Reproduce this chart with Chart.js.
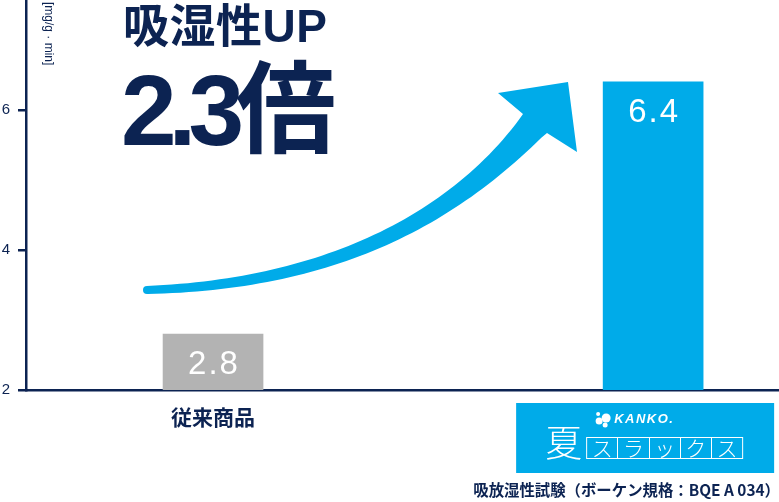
<!DOCTYPE html>
<html>
<head>
<meta charset="utf-8">
<script src="https://cdn.jsdelivr.net/npm/chart.js@4.4.1/dist/chart.umd.min.js"></script>
<style>
  html, body { margin: 0; padding: 0; background: #fff; }
  #wrap { width: 779px; height: 502px; position: relative; }
</style>
</head>
<body>
<div id="wrap"><canvas id="moistureChart"></canvas></div>
<script>
const categories = ['従来商品', '夏スラックス'];
const values = [2.8, 6.4];
const yTicks = [2, 4, 6];
const headline = '吸湿性UP';
const ratioText = '2.3倍';
const unitText = '[mg/g · min]';
const footnote = '吸放湿性試験（ボーケン規格：BQE A 034）';

const NAVY = '#0c2352';
const BLUE = '#00abe9';
const GRAY = '#b3b3b3';
const LATIN = '"Liberation Sans", Arial, "Noto Sans CJK JP", sans-serif';
const CJK = '"Noto Sans CJK JP", "Liberation Sans", sans-serif';

// no extra room around the axes, the plot fills the canvas
function noPadding(scale) {
    scale.paddingTop = 0;
    scale.paddingBottom = 0;
    scale.paddingLeft = 0;
    scale.paddingRight = 0;
}

// arrow, headline, value labels and the product logo
const decor = {
    id: 'decor',
    afterDatasetsDraw(chart) {
        const ctx = chart.ctx;
        const meta = chart.getDatasetMeta(0);

        // curved arrow
        const p0 = [147, 290], p1 = [400, 282], p2 = [535, 123];
        const n1 = [523, 114], n2 = [547, 133];
        const left = [], right = [];
        const steps = 60;
        for (let i = 0; i <= steps; i++) {
            const t = i / steps;
            const x = (1 - t) * (1 - t) * p0[0] + 2 * t * (1 - t) * p1[0] + t * t * p2[0];
            const y = (1 - t) * (1 - t) * p0[1] + 2 * t * (1 - t) * p1[1] + t * t * p2[1];
            const dx = 2 * (1 - t) * (p1[0] - p0[0]) + 2 * t * (p2[0] - p1[0]);
            const dy = 2 * (1 - t) * (p1[1] - p0[1]) + 2 * t * (p2[1] - p1[1]);
            const len = Math.hypot(dx, dy);
            const w = (8 + 12 * t + 10 * Math.pow(t, 6)) / 2;
            const nx = dy / len, ny = -dx / len;
            left.push([x + nx * w, y + ny * w]);
            right.push([x - nx * w, y - ny * w]);
        }
        left[steps] = n1;
        right[steps] = n2;
        ctx.save();
        ctx.fillStyle = BLUE;
        ctx.beginPath();
        left.forEach((p, i) => i ? ctx.lineTo(p[0], p[1]) : ctx.moveTo(p[0], p[1]));
        ctx.lineTo(498, 93);
        ctx.lineTo(568, 82);
        ctx.lineTo(577, 152);
        for (let i = steps; i >= 0; i--) ctx.lineTo(right[i][0], right[i][1]);
        ctx.closePath();
        ctx.fill();
        ctx.beginPath();
        ctx.arc(p0[0], p0[1], 4, 0, Math.PI * 2);
        ctx.fill();

        // values on the bars
        ctx.fillStyle = '#fff';
        ctx.font = '33px ' + LATIN;
        ctx.letterSpacing = '2px';
        ctx.textAlign = 'center';
        ctx.textBaseline = 'middle';
        meta.data.forEach((el, i) => {
            const y = Math.min((el.y + el.base) / 2, el.y + 31);
            ctx.fillText(String(values[i]), el.x + 1, y);
        });
        ctx.letterSpacing = '0px';

        // headline
        ctx.fillStyle = NAVY;
        ctx.textAlign = 'left';
        ctx.textBaseline = 'alphabetic';
        ctx.font = 'bold 46px ' + LATIN;
        ctx.letterSpacing = '0.5px';
        ctx.fillText(headline, 123, 42);
        ctx.font = 'bold 100px ' + LATIN;
        ctx.letterSpacing = '-8px';
        ctx.fillText(ratioText, 121, 145);
        ctx.letterSpacing = '0px';

        // unit, rotated
        ctx.save();
        ctx.translate(45, 2);
        ctx.rotate(Math.PI / 2);
        ctx.font = '12px ' + LATIN;
        ctx.fillText(unitText, 0, 0);
        ctx.restore();

        // product logo under the second bar
        const cx = chart.scales.x.getPixelForValue(1);
        const top = chart.chartArea.bottom + 13;
        const bx = cx - 137;
        ctx.fillStyle = BLUE;
        ctx.fillRect(bx, top, 258, 70);
        ctx.fillStyle = '#fff';
        [[cx - 54, top + 18, 3.5], [cx - 47, top + 15, 4.5], [cx - 55, top + 11, 2], [cx - 48, top + 22, 2.5]]
            .forEach(c => { ctx.beginPath(); ctx.arc(c[0], c[1], c[2], 0, Math.PI * 2); ctx.fill(); });
        ctx.font = 'italic bold 13px ' + LATIN;
        ctx.letterSpacing = '1.5px';
        ctx.fillText('KANKO.', cx - 39, top + 20);
        ctx.letterSpacing = '0px';
        ctx.font = '300 37px ' + CJK;
        ctx.fillText(categories[1].charAt(0), bx + 29, top + 54);
        const kana = categories[1].slice(1).split('');
        const kw = 31.2, kx0 = bx + 70;
        ctx.strokeStyle = '#fff';
        ctx.lineWidth = 1;
        ctx.strokeRect(kx0 + 0.5, top + 34.5, kw * kana.length, 21);
        ctx.font = '300 21px ' + CJK;
        ctx.textAlign = 'center';
        ctx.textBaseline = 'middle';
        kana.forEach((ch, i) => {
            const kx = kx0 + i * kw;
            if (i) {
                ctx.beginPath();
                ctx.moveTo(Math.round(kx) + 0.5, top + 34.5);
                ctx.lineTo(Math.round(kx) + 0.5, top + 55.5);
                ctx.stroke();
            }
            ctx.fillText(ch, kx + kw / 2 + 0.5, top + 45.5);
        });

        // footnote
        ctx.fillStyle = NAVY;
        ctx.font = 'bold 15.4px ' + CJK;
        ctx.textAlign = 'right';
        ctx.textBaseline = 'alphabetic';
        ctx.fillText(footnote, 780, 496);
        ctx.restore();
    }
};

new Chart(document.getElementById('moistureChart'), {
    type: 'bar',
    data: {
        datasets: [{
            data: values.map((v, i) => ({ x: i, y: v })),
            backgroundColor: [GRAY, BLUE],
            borderWidth: 0,
            barThickness: 100
        }]
    },
    options: {
        responsive: true,
        maintainAspectRatio: false,
        animation: false,
        layout: { padding: 0 },
        plugins: {
            legend: { display: false },
            tooltip: { enabled: false }
        },
        scales: {
            x: {
                type: 'linear',
                offset: false,
                min: -0.425,
                max: 1.286,
                afterBuildTicks: scale => { scale.ticks = categories.map((c, i) => ({ value: i })); },
                afterFit: scale => { scale.height = 112; noPadding(scale); },
                grid: { display: false, drawTicks: false },
                border: { display: true, color: NAVY, width: 2.5 },
                ticks: {
                    autoSkip: false,
                    maxRotation: 0,
                    padding: 14,
                    color: NAVY,
                    font: { family: CJK, size: 21, weight: 'bold' },
                    callback: value => value === 0 ? categories[0] : ''
                }
            },
            y: {
                min: 2,
                max: 7.57,
                afterBuildTicks: scale => { scale.ticks = yTicks.map(v => ({ value: v })); },
                afterFit: scale => { scale.width = 26; noPadding(scale); },
                grid: { drawOnChartArea: false, drawTicks: true, tickLength: 8, color: NAVY, lineWidth: 2.5 },
                border: { display: true, color: NAVY, width: 2.5 },
                ticks: {
                    padding: 8,
                    color: NAVY,
                    font: { family: LATIN, size: 15 }
                }
            }
        }
    },
    plugins: [decor]
});
</script>
</body>
</html>
